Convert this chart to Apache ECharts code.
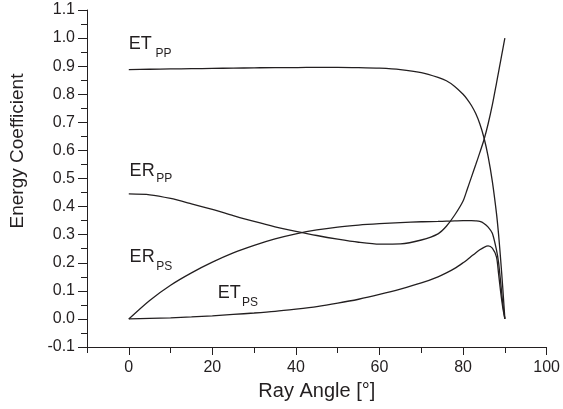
<!DOCTYPE html>
<html>
<head>
<meta charset="utf-8">
<script src="https://cdn.jsdelivr.net/npm/echarts@6/dist/echarts.min.js"></script>
<style>
  html, body { margin: 0; padding: 0; background: #fff; }
  #main { width: 563px; height: 409px; }
</style>
</head>
<body>
<div id="main"></div>
<script>
// ray angle in degrees
var angles = [0, 5, 10, 15, 20, 25, 30, 35, 40, 45, 50, 55, 60, 65, 70, 74, 76, 78, 80, 81, 82, 83, 84, 85, 86, 87, 88, 88.5, 89, 89.5, 90];

var etPP = [0.888, 0.889, 0.890, 0.891, 0.892, 0.893, 0.894, 0.895, 0.895, 0.896, 0.896, 0.895, 0.893, 0.888, 0.877, 0.860, 0.848, 0.828, 0.800, 0.782, 0.760, 0.732, 0.695, 0.645, 0.578, 0.490, 0.375, 0.300, 0.210, 0.110, 0.0];
var erPP = [0.445, 0.442, 0.429, 0.410, 0.390, 0.368, 0.347, 0.328, 0.312, 0.297, 0.284, 0.273, 0.266, 0.267, 0.281, 0.303, 0.330, 0.370, 0.420, 0.462, 0.505, 0.548, 0.592, 0.638, 0.695, 0.762, 0.840, 0.880, 0.920, 0.960, 1.0];
var erPS = [0.0, 0.066, 0.120, 0.164, 0.202, 0.235, 0.262, 0.285, 0.303, 0.317, 0.327, 0.334, 0.339, 0.343, 0.346, 0.347, 0.348, 0.349, 0.350, 0.350, 0.350, 0.349, 0.347, 0.340, 0.327, 0.305, 0.245, 0.200, 0.130, 0.055, 0.0];
var etPS = [0.0, 0.002, 0.004, 0.007, 0.011, 0.016, 0.021, 0.027, 0.035, 0.044, 0.056, 0.070, 0.087, 0.106, 0.128, 0.150, 0.164, 0.180, 0.200, 0.211, 0.223, 0.235, 0.246, 0.255, 0.260, 0.252, 0.220, 0.160, 0.095, 0.040, 0.0];

var xLabelValues = [0, 20, 40, 60, 80, 100];
var xMinorValues = [-10, 10, 30, 50, 70, 90];

// curve names: main text + subscript, placed in data coords
var curveLabels = [
  { main: 'ET', sub: 'PP', at: [0, 0.980], subAt: [6.4, 0.943] },
  { main: 'ER', sub: 'PP', at: [0.2, 0.527], subAt: [6.6, 0.498] },
  { main: 'ER', sub: 'PS', at: [0.2, 0.222], subAt: [6.6, 0.186] },
  { main: 'ET', sub: 'PS', at: [21.3, 0.091], subAt: [27.1, 0.057] }
];

var ink = '#231f20';
var fontFam = '"Liberation Sans", Arial, sans-serif';

function pairs(ys) {
  return angles.map(function (a, i) { return [a, ys[i]]; });
}

var chart = echarts.init(document.getElementById('main'), null, { renderer: 'canvas' });

function lineSeries(ys) {
  return {
    type: 'line',
    data: pairs(ys),
    showSymbol: false,
    smooth: 0.25,
    lineStyle: { color: ink, width: 1.3 },
    silent: true,
    animation: false
  };
}

var option = {
  animation: false,
  grid: { left: 87, right: 15, top: 10, bottom: 62 },
  xAxis: [
    {
      type: 'value', min: -10, max: 100, interval: 10,
      name: 'Ray Angle [°]', nameLocation: 'middle', nameGap: 34,
      nameTextStyle: { color: ink, fontSize: 20, fontFamily: fontFam },
      axisLine: { show: true, onZero: false, lineStyle: { color: ink, width: 1 } },
      axisTick: { show: true, length: 8, customValues: xLabelValues, lineStyle: { color: ink } },
      axisLabel: { customValues: xLabelValues, color: ink, fontSize: 16, fontFamily: fontFam, margin: 13 },
      splitLine: { show: false }
    },
    {
      type: 'value', min: -10, max: 100, position: 'bottom',
      axisLine: { show: false, onZero: false },
      axisTick: { show: true, length: 6, customValues: xMinorValues, lineStyle: { color: ink } },
      axisLabel: { show: false },
      splitLine: { show: false }
    }
  ],
  yAxis: {
    type: 'value', min: -0.1, max: 1.1, interval: 0.1,
    axisLine: { show: true, onZero: false, lineStyle: { color: ink, width: 1 } },
    axisTick: { show: true, length: 9, lineStyle: { color: ink } },
    minorTick: { show: true, splitNumber: 2, length: 6, lineStyle: { color: ink } },
    axisLabel: {
      color: ink, fontSize: 16, fontFamily: fontFam, margin: 12,
      formatter: function (v) { return v.toFixed(1); }
    },
    splitLine: { show: false },
    minorSplitLine: { show: false }
  },
  series: [lineSeries(etPP), lineSeries(erPP), lineSeries(erPS), lineSeries(etPS)]
};

chart.setOption(option);

// annotations after the axes exist
var g = [{
  type: 'text', x: 18, y: 151, rotation: Math.PI / 2,
  style: { text: 'Energy Coefficient', fill: ink, font: '19px ' + fontFam, textAlign: 'center', textVerticalAlign: 'middle' }
}];
curveLabels.forEach(function (c) {
  var p = chart.convertToPixel({ gridIndex: 0 }, c.at);
  var s = chart.convertToPixel({ gridIndex: 0 }, c.subAt);
  g.push({ type: 'text', x: p[0], y: p[1],
    style: { text: c.main, fill: ink, font: '18px ' + fontFam, textAlign: 'left', textVerticalAlign: 'middle' } });
  g.push({ type: 'text', x: s[0], y: s[1],
    style: { text: c.sub, fill: ink, font: '12px ' + fontFam, textAlign: 'left', textVerticalAlign: 'middle' } });
});
chart.setOption({ graphic: g });
</script>
</body>
</html>
